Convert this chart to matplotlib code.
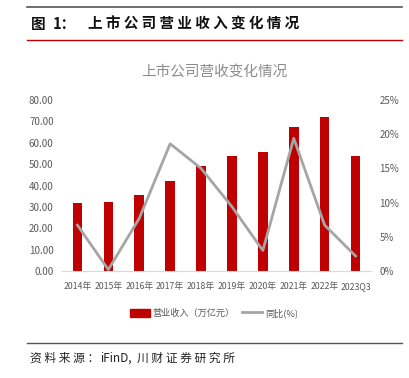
import matplotlib
matplotlib.use("Agg")
import matplotlib.pyplot as plt
from matplotlib.lines import Line2D
from matplotlib.patches import Patch

plt.rcParams['font.family'] = ['Noto Sans CJK SC', 'DejaVu Sans']

categories = ['2014年', '2015年', '2016年', '2017年', '2018年', '2019年', '2020年', '2021年', '2022年', '2023Q3']
revenue = [31.6, 32.5, 35.5, 42.2, 49.1, 53.9, 55.9, 67.2, 71.9, 53.6]
yoy = [6.7, 0.2, 7.7, 18.6, 15.0, 9.4, 3.0, 19.4, 6.7, 2.2]
left_ticks = [0, 10, 20, 30, 40, 50, 60, 70, 80]
right_ticks = [0, 5, 10, 15, 20, 25]

W, H = 409, 378
fig = plt.figure(figsize=(W / 100, H / 100), dpi=100)

# decorations
fig.add_artist(Line2D([27 / W, 402 / W], [1 - 7 / H, 1 - 7 / H], color='#555555', lw=1.2))
fig.add_artist(Line2D([27 / W, 402 / W], [1 - 40 / H, 1 - 40 / H], color='#c00000', lw=1.0))
fig.add_artist(Line2D([27 / W, 402 / W], [1 - 343 / H, 1 - 343 / H], color='#555555', lw=1.0))

hkw = dict(fontsize=10.5, fontweight='bold', color='#111111')
fig.text(31 / W, 1 - 24 / H, '图', ha='left', va='center', **hkw)
fig.text(53 / W, 1 - 24 / H, '1：', ha='left', va='center', **hkw)
fig.text(87.5 / W, 1 - 24 / H, ' '.join('上市公司营业收入变化情况'), ha='left', va='center', **hkw)

fig.text(214 / W, 1 - 72 / H, '上市公司营收变化情况', fontsize=10.5, color='#8c8c8c',
         va='center', ha='center')

skw = dict(fontsize=8.5, color='#222222')
fig.text(30 / W, 1 - 358 / H, ' '.join('资料来源：'), ha='left', va='center', **skw)
fig.text(100 / W, 1 - 358 / H, 'iFinD,', ha='left', va='center', style='italic', **skw)
fig.text(137 / W, 1 - 358 / H, ' '.join('川财证券研究所'), ha='left', va='center', **skw)

ax = fig.add_axes([62 / W, 1 - 271 / H, (371 - 62) / W, (271 - 100) / H])
x = list(range(len(categories)))
ax.bar(x, revenue, width=0.31, color='#c00000', zorder=2)
ax.set_xlim(-0.5, len(categories) - 0.5)
ax.set_ylim(0, 80)
ax.set_yticks(left_ticks)
ax.set_yticklabels([f'{v:.2f}' for v in left_ticks])
ax.set_xticks(x)
ax.set_xticklabels(categories)
for s in ['top', 'right', 'left']:
    ax.spines[s].set_visible(False)
ax.spines['bottom'].set_color('#d9d9d9')
ax.tick_params(axis='y', length=0, labelsize=7, colors='#595959', pad=6)
ax.tick_params(axis='x', length=0, labelsize=6.3, colors='#595959', pad=8)

ax2 = ax.twinx()
ax2.plot(x, yoy, color='#a5a5a5', lw=2.0, zorder=3)
ax2.set_ylim(0, 25)
ax2.set_yticks(right_ticks)
ax2.set_yticklabels([f'{v}%' for v in right_ticks])
for s in ['top', 'right', 'left', 'bottom']:
    ax2.spines[s].set_visible(False)
ax2.tick_params(axis='y', length=0, labelsize=7, colors='#595959', pad=6)

handles = [Patch(color='#c00000'), Line2D([0], [0], color='#a5a5a5', lw=2.0)]
fig.legend(handles, ['营业收入（万亿元）', '同比(%)'], loc='center', bbox_to_anchor=(214 / W, 1 - 313 / H),
           ncol=2, frameon=False, fontsize=6.6, labelcolor='#595959', handlelength=2.2,
           handleheight=0.9, columnspacing=0.8, handletextpad=0.3)

fig.savefig('out.png', dpi=100)
